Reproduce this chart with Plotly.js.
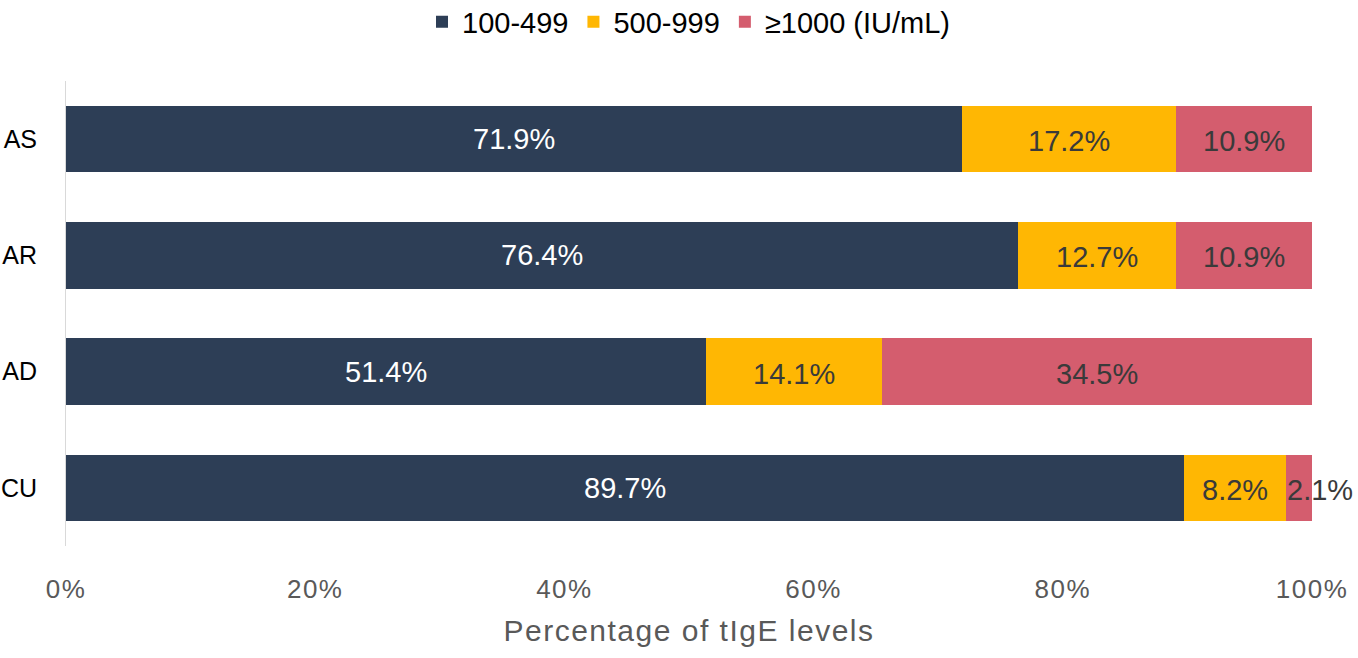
<!DOCTYPE html>
<html>
<head>
<meta charset="utf-8">
<script src="https://cdn.plot.ly/plotly-3.0.1.min.js"></script>
<style>html,body{margin:0;padding:0;background:#fff;}#chart{width:1358px;height:658px;}
.xtitle{letter-spacing:1.5px;} .xtick text{letter-spacing:1.5px;}</style>
</head>
<body>
<div id="chart"></div>
<script>
const categories = ["AS", "AR", "AD", "CU"];
const seriesNames = ["100-499", "500-999", "≥1000 (IU/mL)"];
const low = [71.9, 76.4, 51.4, 89.7];
const mid = [17.2, 12.7, 14.1, 8.2];
const high = [10.9, 10.9, 34.5, 2.1];
const xTickVals = [0, 20, 40, 60, 80, 100];
const xTickText = ["0%", "20%", "40%", "60%", "80%", "100%"];

const colors = ["#2D3E56", "#FFB703", "#D45D6E"];
const textColors = ["#FFFFFF", "#3A3A3A", "#3A3A3A"];
const series = [low, mid, high];

const traces = [];
series.forEach((vals, i) => {
  traces.push({
    type: "bar", orientation: "h", name: seriesNames[i],
    y: categories, x: vals, width: 0.57,
    marker: {color: colors[i]}, hoverinfo: "none", textposition: "none"
  });
});
// labels at segment centers
const annotations = [];
series.forEach((vals, i) => {
  vals.forEach((v, k) => {
    let base = 0;
    for (let j = 0; j < i; j++) base += series[j][k];
    annotations.push({
      x: base + v / 2, y: categories[k], xref: "x", yref: "y",
      text: v.toFixed(1) + "%", showarrow: false,
      xshift: (v < 3 ? 21 : 0), yshift: (i > 0 ? -2 : 0),
      font: {family: "Liberation Sans, Arial, sans-serif", size: 29, color: textColors[i]}
    });
  });
});

const layout = {
  width: 1358, height: 658,
  margin: {l: 66, r: 46, t: 81, b: 112},
  barmode: "stack",
  paper_bgcolor: "#fff", plot_bgcolor: "#fff",
  font: {family: "Liberation Sans, Arial, sans-serif", color: "#000"},
  showlegend: true,
  legend: {orientation: "h", x: 0.5, xanchor: "center", y: 1 - 22 / 658, yref: "container", yanchor: "middle",
    font: {size: 29, color: "#000"}, traceorder: "normal", itemwidth: 30},
  annotations: annotations,
  xaxis: {range: [0, 100], tickvals: xTickVals, ticktext: xTickText, showgrid: false, zeroline: false,
    showline: false, ticks: "outside", ticklen: 20, tickcolor: "rgba(0,0,0,0)", automargin: false,
    tickfont: {size: 26, color: "#595959"},
    title: {text: "Percentage of tIgE levels", font: {size: 30, color: "#595959"}, standoff: 16}},
  yaxis: {categoryorder: "array", categoryarray: categories, autorange: "reversed", range: [3.5, -0.5],
    showgrid: false, zeroline: false, showline: true, linecolor: "#D9D9D9", linewidth: 1,
    ticks: "outside", ticklen: 23, tickcolor: "rgba(0,0,0,0)", automargin: false,
    tickfont: {size: 25, color: "#000"}}
};

Plotly.newPlot("chart", traces, layout, {displayModeBar: false, staticPlot: true});
</script>
</body>
</html>
